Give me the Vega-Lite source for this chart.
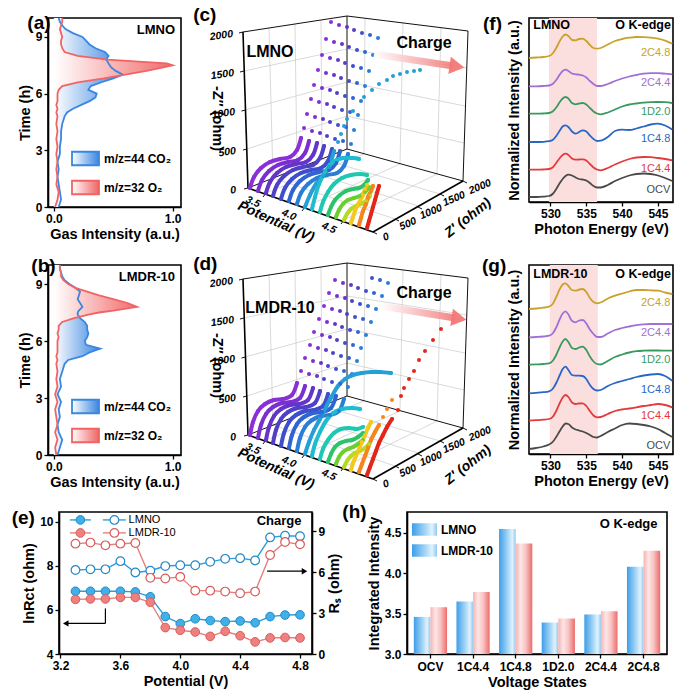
{
  "$schema": "https://vega.github.io/schema/vega-lite/v6.json",
  "padding": {"left": 10, "top": 5, "right": 0, "bottom": 0},
  "config": {
    "font": "Liberation Sans",
    "view": {"stroke": "#000000", "strokeWidth": 1.6},
    "axis": {"labelFont": "Liberation Sans", "labelFontSize": 12, "labelFontWeight": "bold", "labelColor": "#000000", "titleFont": "Liberation Sans", "titleFontSize": 14.5, "titleFontWeight": "bold", "titleColor": "#000000", "domainColor": "#000000", "domainWidth": 1.6, "tickColor": "#000000", "tickWidth": 1.3, "tickSize": 4, "grid": false, "labelPadding": 2, "titlePadding": 3},
    "title": {"font": "Liberation Sans", "fontSize": 19, "fontWeight": "bold", "color": "#000000", "anchor": "start", "frame": "bounds", "offset": 0},
    "legend": {"labelFont": "Liberation Sans", "labelColor": "#000000", "padding": 0},
    "text": {"font": "Liberation Sans", "color": "#000000"}
  },
  "datasets": {
    "gasA": [
      {"t": 0, "co2": 0.04, "o2": 0.01}, {"t": 0.4, "co2": 0.06, "o2": 0.03}, {"t": 0.8, "co2": 0.05, "o2": 0.04}, {"t": 1.2, "co2": 0.04, "o2": 0.02},
      {"t": 1.6, "co2": 0.03, "o2": 0.03}, {"t": 2.0, "co2": 0.04, "o2": 0.02}, {"t": 2.4, "co2": 0.03, "o2": 0.03}, {"t": 2.8, "co2": 0.05, "o2": 0.02},
      {"t": 3.2, "co2": 0.05, "o2": 0.03}, {"t": 3.6, "co2": 0.06, "o2": 0.02}, {"t": 4.0, "co2": 0.06, "o2": 0.03}, {"t": 4.4, "co2": 0.07, "o2": 0.02},
      {"t": 4.8, "co2": 0.09, "o2": 0.03}, {"t": 5.0, "co2": 0.11, "o2": 0.02}, {"t": 5.2, "co2": 0.16, "o2": 0.03}, {"t": 5.4, "co2": 0.23, "o2": 0.02},
      {"t": 5.6, "co2": 0.30, "o2": 0.03}, {"t": 5.8, "co2": 0.35, "o2": 0.03}, {"t": 6.0, "co2": 0.36, "o2": 0.03}, {"t": 6.2, "co2": 0.29, "o2": 0.04},
      {"t": 6.4, "co2": 0.31, "o2": 0.07}, {"t": 6.6, "co2": 0.40, "o2": 0.20}, {"t": 6.8, "co2": 0.50, "o2": 0.42}, {"t": 7.0, "co2": 0.58, "o2": 0.60},
      {"t": 7.2, "co2": 0.52, "o2": 0.78}, {"t": 7.4, "co2": 0.48, "o2": 0.93}, {"t": 7.5, "co2": 0.47, "o2": 1.0}, {"t": 7.6, "co2": 0.46, "o2": 0.95},
      {"t": 7.8, "co2": 0.44, "o2": 0.45}, {"t": 8.0, "co2": 0.46, "o2": 0.20}, {"t": 8.2, "co2": 0.43, "o2": 0.09}, {"t": 8.4, "co2": 0.35, "o2": 0.07},
      {"t": 8.6, "co2": 0.30, "o2": 0.06}, {"t": 8.8, "co2": 0.27, "o2": 0.06}, {"t": 9.0, "co2": 0.24, "o2": 0.07}, {"t": 9.2, "co2": 0.16, "o2": 0.06},
      {"t": 9.4, "co2": 0.10, "o2": 0.05}, {"t": 9.6, "co2": 0.07, "o2": 0.06}, {"t": 9.8, "co2": 0.05, "o2": 0.07}, {"t": 10.0, "co2": 0.04, "o2": 0.07}
    ],
    "gasB": [
      {"t": 0, "co2": 0.03, "o2": 0.02}, {"t": 0.4, "co2": 0.05, "o2": 0.01}, {"t": 0.8, "co2": 0.07, "o2": 0.03}, {"t": 1.2, "co2": 0.04, "o2": 0.01},
      {"t": 1.6, "co2": 0.03, "o2": 0.03}, {"t": 2.0, "co2": 0.05, "o2": 0.02}, {"t": 2.4, "co2": 0.04, "o2": 0.01}, {"t": 2.8, "co2": 0.06, "o2": 0.03},
      {"t": 3.2, "co2": 0.03, "o2": 0.01}, {"t": 3.6, "co2": 0.06, "o2": 0.03}, {"t": 4.0, "co2": 0.05, "o2": 0.02}, {"t": 4.4, "co2": 0.07, "o2": 0.03},
      {"t": 4.8, "co2": 0.09, "o2": 0.02}, {"t": 5.0, "co2": 0.12, "o2": 0.03}, {"t": 5.2, "co2": 0.24, "o2": 0.02}, {"t": 5.4, "co2": 0.30, "o2": 0.03},
      {"t": 5.6, "co2": 0.39, "o2": 0.03}, {"t": 5.8, "co2": 0.27, "o2": 0.03}, {"t": 6.0, "co2": 0.26, "o2": 0.03}, {"t": 6.2, "co2": 0.28, "o2": 0.04},
      {"t": 6.4, "co2": 0.29, "o2": 0.03}, {"t": 6.6, "co2": 0.28, "o2": 0.04}, {"t": 6.8, "co2": 0.28, "o2": 0.04}, {"t": 7.0, "co2": 0.26, "o2": 0.07},
      {"t": 7.2, "co2": 0.22, "o2": 0.17}, {"t": 7.4, "co2": 0.20, "o2": 0.30}, {"t": 7.5, "co2": 0.20, "o2": 0.38}, {"t": 7.6, "co2": 0.21, "o2": 0.50},
      {"t": 7.8, "co2": 0.24, "o2": 0.70}, {"t": 8.0, "co2": 0.22, "o2": 0.62}, {"t": 8.2, "co2": 0.20, "o2": 0.50}, {"t": 8.4, "co2": 0.21, "o2": 0.38},
      {"t": 8.6, "co2": 0.22, "o2": 0.28}, {"t": 8.8, "co2": 0.18, "o2": 0.18}, {"t": 9.0, "co2": 0.13, "o2": 0.12}, {"t": 9.2, "co2": 0.09, "o2": 0.08},
      {"t": 9.4, "co2": 0.07, "o2": 0.06}, {"t": 9.6, "co2": 0.06, "o2": 0.06}, {"t": 9.8, "co2": 0.05, "o2": 0.05}, {"t": 10.0, "co2": 0.05, "o2": 0.05}
    ],
    "states": [
      {"k": "a", "name": "OCV"}, {"k": "b", "name": "1C4.4"}, {"k": "c", "name": "1C4.8"},
      {"k": "d", "name": "1D2.0"}, {"k": "e", "name": "2C4.4"}, {"k": "f", "name": "2C4.8"}
    ],
    "specF": [
      {"E": 527, "a": 2, "b": 29.3, "c": 57, "d": 85.3, "e": 112.7, "f": 141},
      {"E": 528, "a": 2, "b": 29.3, "c": 57, "d": 85.3, "e": 112.7, "f": 141.5},
      {"E": 529, "a": 2.3, "b": 29.5, "c": 57.2, "d": 85.5, "e": 113, "f": 142},
      {"E": 529.8, "a": 3, "b": 30, "c": 57.8, "d": 86, "e": 113.5, "f": 143},
      {"E": 530.3, "a": 5, "b": 31.5, "c": 59, "d": 87.5, "e": 115, "f": 145.5},
      {"E": 530.8, "a": 10, "b": 36, "c": 63, "d": 91.5, "e": 119, "f": 151},
      {"E": 531.3, "a": 16, "b": 41, "c": 68.5, "d": 97, "e": 124.5, "f": 158},
      {"E": 531.7, "a": 20, "b": 44, "c": 72.5, "d": 100.5, "e": 128, "f": 162.5},
      {"E": 532.1, "a": 23, "b": 45.3, "c": 73.7, "d": 102, "e": 129.3, "f": 164.5},
      {"E": 532.5, "a": 24.3, "b": 44, "c": 72, "d": 100.5, "e": 128, "f": 163},
      {"E": 533, "a": 23.5, "b": 40.5, "c": 67.5, "d": 96, "e": 125.5, "f": 159},
      {"E": 533.5, "a": 21.5, "b": 39.3, "c": 65.3, "d": 94.7, "e": 124.7, "f": 158.7},
      {"E": 534, "a": 20, "b": 39.5, "c": 67, "d": 95.5, "e": 124.3, "f": 160},
      {"E": 534.5, "a": 19.5, "b": 39.7, "c": 68.7, "d": 96, "e": 123.5, "f": 160.3},
      {"E": 535, "a": 18.5, "b": 38.5, "c": 67.5, "d": 94.5, "e": 121.5, "f": 158},
      {"E": 535.5, "a": 16, "b": 35, "c": 63.5, "d": 91, "e": 118, "f": 154},
      {"E": 536, "a": 13, "b": 31.5, "c": 60, "d": 87.5, "e": 115, "f": 151},
      {"E": 536.5, "a": 11.5, "b": 29.5, "c": 58, "d": 85.5, "e": 113, "f": 150.3},
      {"E": 537, "a": 11.5, "b": 28.7, "c": 58.3, "d": 84.7, "e": 113, "f": 151},
      {"E": 538, "a": 14, "b": 31, "c": 62, "d": 86.5, "e": 115, "f": 154.5},
      {"E": 539, "a": 18, "b": 34.5, "c": 68, "d": 89.5, "e": 118, "f": 158},
      {"E": 540, "a": 21, "b": 37.5, "c": 69.3, "d": 92.5, "e": 120.5, "f": 160},
      {"E": 541, "a": 23.5, "b": 40, "c": 69, "d": 94.5, "e": 122.5, "f": 161.3},
      {"E": 542, "a": 25, "b": 41.5, "c": 70.5, "d": 95.5, "e": 124, "f": 162},
      {"E": 543, "a": 25.5, "b": 42, "c": 72.5, "d": 96.3, "e": 125.3, "f": 161.8},
      {"E": 544, "a": 25, "b": 41.8, "c": 74.5, "d": 96.8, "e": 125.8, "f": 161.3},
      {"E": 545, "a": 23.5, "b": 41, "c": 75.3, "d": 97, "e": 125.8, "f": 160.3},
      {"E": 546, "a": 21, "b": 40, "c": 73.5, "d": 96.8, "e": 125.3, "f": 158.3},
      {"E": 547, "a": 18, "b": 38.7, "c": 69.5, "d": 96, "e": 124.7, "f": 155.3}
    ],
    "specG": [
      {"E": 527, "a": 5, "b": 33.3, "c": 60.7, "d": 89.3, "e": 116.7, "f": 145},
      {"E": 528, "a": 6, "b": 33.8, "c": 61.2, "d": 89.6, "e": 117, "f": 145.5},
      {"E": 529, "a": 7.5, "b": 34.3, "c": 61.8, "d": 90, "e": 117.5, "f": 146.3},
      {"E": 529.8, "a": 9.5, "b": 35, "c": 62.7, "d": 90.7, "e": 118.3, "f": 147.3},
      {"E": 530.3, "a": 12, "b": 37, "c": 65, "d": 93, "e": 120.5, "f": 150},
      {"E": 530.8, "a": 17, "b": 43, "c": 71, "d": 99, "e": 126.5, "f": 157},
      {"E": 531.3, "a": 23, "b": 51, "c": 79, "d": 107, "e": 135, "f": 165},
      {"E": 531.7, "a": 27.5, "b": 56.5, "c": 85, "d": 112.5, "e": 140.5, "f": 169.5},
      {"E": 532.1, "a": 30.5, "b": 59, "c": 87.3, "d": 115, "e": 142.7, "f": 170.7},
      {"E": 532.5, "a": 30, "b": 57, "c": 84, "d": 112, "e": 139.5, "f": 168},
      {"E": 533, "a": 26.5, "b": 51.5, "c": 79, "d": 106, "e": 133, "f": 164},
      {"E": 533.5, "a": 24.5, "b": 50, "c": 78.3, "d": 105, "e": 131.7, "f": 163.3},
      {"E": 534, "a": 23.5, "b": 50.5, "c": 78.3, "d": 106.5, "e": 133.5, "f": 164.5},
      {"E": 534.5, "a": 22.5, "b": 50.7, "c": 78, "d": 107.3, "e": 134, "f": 165},
      {"E": 535, "a": 21, "b": 48, "c": 75, "d": 104, "e": 130.5, "f": 162},
      {"E": 535.5, "a": 19, "b": 43, "c": 69, "d": 97.5, "e": 124.5, "f": 156},
      {"E": 536, "a": 17, "b": 38.5, "c": 65, "d": 92.5, "e": 120, "f": 152},
      {"E": 536.5, "a": 16.5, "b": 36.7, "c": 63.5, "d": 90, "e": 117, "f": 150.7},
      {"E": 537, "a": 18, "b": 37, "c": 64, "d": 89.5, "e": 117, "f": 151.5},
      {"E": 538, "a": 22, "b": 40, "c": 68, "d": 93, "e": 120.5, "f": 155.5},
      {"E": 539, "a": 25.5, "b": 43, "c": 71, "d": 97, "e": 124, "f": 158.3},
      {"E": 540, "a": 29, "b": 44.5, "c": 73, "d": 99.5, "e": 126, "f": 160.5},
      {"E": 541, "a": 30.5, "b": 45.5, "c": 75, "d": 101.5, "e": 127.5, "f": 162.5},
      {"E": 542, "a": 30, "b": 46.7, "c": 77, "d": 102.8, "e": 128.8, "f": 164},
      {"E": 543, "a": 29, "b": 48, "c": 78.5, "d": 103.3, "e": 129.7, "f": 164},
      {"E": 544, "a": 27.5, "b": 49, "c": 79.5, "d": 103.5, "e": 130, "f": 163.6},
      {"E": 545, "a": 25, "b": 50, "c": 80, "d": 103.5, "e": 130, "f": 163.3},
      {"E": 546, "a": 21, "b": 49, "c": 78, "d": 103.4, "e": 130, "f": 161.5},
      {"E": 547, "a": 17, "b": 46.7, "c": 73.3, "d": 103.3, "e": 130, "f": 160}
    ],
    "frame3d": [
      {"u": 42, "v": 160, "u2": 38, "v2": 10, "k": "g"}, {"u": 66, "v": 150, "u2": 64, "v2": 6, "k": "g"}, {"u": 91, "v": 141, "u2": 90, "v2": 2, "k": "g"},
      {"u": 16, "v": 131, "u2": 116, "v2": 98, "k": "g"}, {"u": 14, "v": 92, "u2": 116, "v2": 64, "k": "g"}, {"u": 13, "v": 53, "u2": 116, "v2": 31, "k": "g"},
      {"u": 133, "v": 136, "u2": 134, "v2": 0, "k": "g"}, {"u": 169, "v": 146, "u2": 172, "v2": 5, "k": "g"}, {"u": 206, "v": 156, "u2": 210, "v2": 10, "k": "g"},
      {"u": 116, "v": 98, "u2": 233, "v2": 125, "k": "g"}, {"u": 116, "v": 64, "u2": 234, "v2": 88, "k": "g"}, {"u": 116, "v": 31, "u2": 236, "v2": 50, "k": "g"},
      {"u": 42, "v": 160, "u2": 164, "v2": 201, "k": "g"}, {"u": 66, "v": 150, "u2": 187, "v2": 188, "k": "g"}, {"u": 91, "v": 141, "u2": 209, "v2": 176, "k": "g"},
      {"u": 35, "v": 175, "u2": 133, "v2": 136, "k": "g"}, {"u": 74, "v": 189, "u2": 169, "v2": 146, "k": "g"}, {"u": 113, "v": 202, "u2": 206, "v2": 156, "k": "g"},
      {"u": 12, "v": 14, "u2": 116, "v2": -2, "k": "e"}, {"u": 116, "v": -2, "u2": 116, "v2": 131, "k": "e"}, {"u": 116, "v": -2, "u2": 237, "v2": 13, "k": "e"},
      {"u": 237, "v": 13, "u2": 232, "v2": 163, "k": "e"}, {"u": 17, "v": 170, "u2": 116, "v2": 131, "k": "e"}, {"u": 116, "v": 131, "u2": 232, "v2": 163, "k": "e"},
      {"u": 17, "v": 170, "u2": 13, "v2": 171, "k": "e"}, {"u": 16, "v": 131, "u2": 12, "v2": 132, "k": "e"}, {"u": 14.5, "v": 92, "u2": 10.5, "v2": 93, "k": "e"},
      {"u": 13, "v": 53, "u2": 9, "v2": 54, "k": "e"}, {"u": 12, "v": 14, "u2": 8, "v2": 15, "k": "e"},
      {"u": 35, "v": 175, "u2": 32, "v2": 179, "k": "e"}, {"u": 74, "v": 189, "u2": 71, "v2": 193, "k": "e"}, {"u": 113, "v": 202, "u2": 110, "v2": 206, "k": "e"},
      {"u": 142, "v": 214, "u2": 146, "v2": 216, "k": "e"}, {"u": 164, "v": 201, "u2": 168, "v2": 203, "k": "e"}, {"u": 187, "v": 189, "u2": 191, "v2": 191, "k": "e"},
      {"u": 209, "v": 176, "u2": 213, "v2": 178, "k": "e"}, {"u": 232, "v": 163, "u2": 236, "v2": 165, "k": "e"},
      {"u": 17, "v": 170, "u2": 12, "v2": 14, "k": "a"}, {"u": 17, "v": 170, "u2": 142, "v2": 214, "k": "a"}, {"u": 142, "v": 214, "u2": 232, "v2": 163, "k": "a"}
    ],
    "lab3d": [
      {"u": 5, "v": 172, "t": "0", "g": "z"}, {"u": 5, "v": 133, "t": "500", "g": "z"}, {"u": 4, "v": 94, "t": "1000", "g": "z"},
      {"u": 3, "v": 55, "t": "1500", "g": "z"}, {"u": 2, "v": 16, "t": "2000", "g": "z"},
      {"u": 22, "v": 184, "t": "3.5", "g": "p"}, {"u": 58, "v": 197, "t": "4.0", "g": "p"}, {"u": 98, "v": 210, "t": "4.5", "g": "p"},
      {"u": 155, "v": 219, "t": "0", "g": "r"}, {"u": 177, "v": 206, "t": "500", "g": "r"}, {"u": 200, "v": 194, "t": "1000", "g": "r"},
      {"u": 223, "v": 181, "t": "1500", "g": "r"}, {"u": 249, "v": 169, "t": "2000", "g": "r"}
    ],
    "curC": [
      {"p": 3.3, "u": 19, "v": 170, "s": "h"}, {"p": 3.3, "u": 23, "v": 159, "s": "h"}, {"p": 3.3, "u": 30, "v": 150, "s": "h"}, {"p": 3.3, "u": 39, "v": 144, "s": "h"}, {"p": 3.3, "u": 49, "v": 141, "s": "h"}, {"p": 3.3, "u": 59, "v": 139, "s": "h"}, {"p": 3.3, "u": 66, "v": 132, "s": "h"}, {"p": 3.3, "u": 70, "v": 120, "s": "h"},
      {"p": 3.3, "u": 73, "v": 110, "s": "l"}, {"p": 3.3, "u": 76, "v": 96, "s": "l"}, {"p": 3.3, "u": 80, "v": 81, "s": "l"}, {"p": 3.3, "u": 83, "v": 67, "s": "l"}, {"p": 3.3, "u": 87, "v": 52, "s": "l"}, {"p": 3.3, "u": 91, "v": 37, "s": "l"}, {"p": 3.3, "u": 95, "v": 21, "s": "l"}, {"p": 3.3, "u": 100, "v": 4, "s": "l"},
      {"p": 3.4, "u": 27, "v": 173, "s": "h"}, {"p": 3.4, "u": 31, "v": 162, "s": "h"}, {"p": 3.4, "u": 38, "v": 153, "s": "h"}, {"p": 3.4, "u": 47, "v": 147, "s": "h"}, {"p": 3.4, "u": 57, "v": 144, "s": "h"}, {"p": 3.4, "u": 67, "v": 142, "s": "h"}, {"p": 3.4, "u": 74, "v": 135, "s": "h"}, {"p": 3.4, "u": 78, "v": 123, "s": "h"},
      {"p": 3.4, "u": 81, "v": 113, "s": "l"}, {"p": 3.4, "u": 84, "v": 99, "s": "l"}, {"p": 3.4, "u": 88, "v": 84, "s": "l"}, {"p": 3.4, "u": 91, "v": 70, "s": "l"}, {"p": 3.4, "u": 95, "v": 55, "s": "l"}, {"p": 3.4, "u": 99, "v": 40, "s": "l"}, {"p": 3.4, "u": 103, "v": 24, "s": "l"}, {"p": 3.4, "u": 108, "v": 7, "s": "l"},
      {"p": 3.5, "u": 35, "v": 175, "s": "h"}, {"p": 3.5, "u": 39, "v": 164, "s": "h"}, {"p": 3.5, "u": 46, "v": 155, "s": "h"}, {"p": 3.5, "u": 55, "v": 149, "s": "h"}, {"p": 3.5, "u": 65, "v": 146, "s": "h"}, {"p": 3.5, "u": 75, "v": 144, "s": "h"}, {"p": 3.5, "u": 82, "v": 137, "s": "h"}, {"p": 3.5, "u": 86, "v": 125, "s": "h"},
      {"p": 3.5, "u": 89, "v": 115, "s": "l"}, {"p": 3.5, "u": 92, "v": 101, "s": "l"}, {"p": 3.5, "u": 96, "v": 86, "s": "l"}, {"p": 3.5, "u": 99, "v": 72, "s": "l"}, {"p": 3.5, "u": 103, "v": 57, "s": "l"}, {"p": 3.5, "u": 107, "v": 42, "s": "l"}, {"p": 3.5, "u": 111, "v": 26, "s": "l"}, {"p": 3.5, "u": 116, "v": 9, "s": "l"},
      {"p": 3.6, "u": 42, "v": 178, "s": "h"}, {"p": 3.6, "u": 46, "v": 167, "s": "h"}, {"p": 3.6, "u": 53, "v": 158, "s": "h"}, {"p": 3.6, "u": 62, "v": 152, "s": "h"}, {"p": 3.6, "u": 72, "v": 149, "s": "h"}, {"p": 3.6, "u": 82, "v": 147, "s": "h"}, {"p": 3.6, "u": 89, "v": 140, "s": "h"}, {"p": 3.6, "u": 93, "v": 128, "s": "h"},
      {"p": 3.6, "u": 96, "v": 118, "s": "l"}, {"p": 3.6, "u": 99, "v": 104, "s": "l"}, {"p": 3.6, "u": 103, "v": 89, "s": "l"}, {"p": 3.6, "u": 106, "v": 75, "s": "l"}, {"p": 3.6, "u": 110, "v": 60, "s": "l"}, {"p": 3.6, "u": 114, "v": 45, "s": "l"}, {"p": 3.6, "u": 118, "v": 29, "s": "l"}, {"p": 3.6, "u": 123, "v": 12, "s": "l"},
      {"p": 3.7, "u": 50, "v": 181, "s": "h"}, {"p": 3.7, "u": 54, "v": 170, "s": "h"}, {"p": 3.7, "u": 61, "v": 161, "s": "h"}, {"p": 3.7, "u": 70, "v": 155, "s": "h"}, {"p": 3.7, "u": 80, "v": 152, "s": "h"}, {"p": 3.7, "u": 90, "v": 150, "s": "h"}, {"p": 3.7, "u": 97, "v": 143, "s": "h"}, {"p": 3.7, "u": 101, "v": 131, "s": "h"},
      {"p": 3.7, "u": 104, "v": 121, "s": "l"}, {"p": 3.7, "u": 107, "v": 107, "s": "l"}, {"p": 3.7, "u": 111, "v": 92, "s": "l"}, {"p": 3.7, "u": 114, "v": 78, "s": "l"}, {"p": 3.7, "u": 118, "v": 63, "s": "l"}, {"p": 3.7, "u": 122, "v": 48, "s": "l"}, {"p": 3.7, "u": 126, "v": 32, "s": "l"}, {"p": 3.7, "u": 131, "v": 15, "s": "l"},
      {"p": 3.8, "u": 58, "v": 183, "s": "h"}, {"p": 3.8, "u": 62, "v": 172, "s": "h"}, {"p": 3.8, "u": 69, "v": 163, "s": "h"}, {"p": 3.8, "u": 78, "v": 157, "s": "h"}, {"p": 3.8, "u": 88, "v": 154, "s": "h"}, {"p": 3.8, "u": 98, "v": 152, "s": "h"}, {"p": 3.8, "u": 105, "v": 145, "s": "h"}, {"p": 3.8, "u": 109, "v": 133, "s": "h"},
      {"p": 3.8, "u": 112, "v": 123, "s": "l"}, {"p": 3.8, "u": 115, "v": 109, "s": "l"}, {"p": 3.8, "u": 119, "v": 94, "s": "l"}, {"p": 3.8, "u": 122, "v": 80, "s": "l"}, {"p": 3.8, "u": 126, "v": 65, "s": "l"}, {"p": 3.8, "u": 130, "v": 50, "s": "l"}, {"p": 3.8, "u": 134, "v": 34, "s": "l"}, {"p": 3.8, "u": 139, "v": 17, "s": "l"},
      {"p": 3.9, "u": 66, "v": 186, "s": "h"}, {"p": 3.9, "u": 70, "v": 175, "s": "h"}, {"p": 3.9, "u": 77, "v": 166, "s": "h"}, {"p": 3.9, "u": 86, "v": 160, "s": "h"}, {"p": 3.9, "u": 96, "v": 157, "s": "h"}, {"p": 3.9, "u": 106, "v": 155, "s": "h"}, {"p": 3.9, "u": 113, "v": 148, "s": "h"}, {"p": 3.9, "u": 117, "v": 136, "s": "h"},
      {"p": 3.9, "u": 120, "v": 126, "s": "l"}, {"p": 3.9, "u": 123, "v": 112, "s": "l"}, {"p": 3.9, "u": 127, "v": 97, "s": "l"}, {"p": 3.9, "u": 130, "v": 83, "s": "l"}, {"p": 3.9, "u": 134, "v": 68, "s": "l"}, {"p": 3.9, "u": 138, "v": 53, "s": "l"}, {"p": 3.9, "u": 142, "v": 37, "s": "l"}, {"p": 3.9, "u": 147, "v": 20, "s": "l"},
      {"p": 4.0, "u": 74, "v": 189, "s": "h"}, {"p": 4.0, "u": 79, "v": 177, "s": "h"}, {"p": 4.0, "u": 85, "v": 166, "s": "h"}, {"p": 4.0, "u": 92, "v": 158, "s": "h"}, {"p": 4.0, "u": 98, "v": 149, "s": "h"}, {"p": 4.0, "u": 103, "v": 133, "s": "h"},
      {"p": 4.0, "u": 107, "v": 124, "s": "l"}, {"p": 4.0, "u": 110, "v": 116, "s": "l"}, {"p": 4.0, "u": 113, "v": 108, "s": "l"}, {"p": 4.0, "u": 116, "v": 101, "s": "l"}, {"p": 4.0, "u": 122, "v": 93, "s": "l"}, {"p": 4.0, "u": 133, "v": 79, "s": "l"}, {"p": 4.0, "u": 141, "v": 72, "s": "l"},
      {"p": 4.0, "u": 148, "v": 66, "s": "l"}, {"p": 4.0, "u": 156, "v": 62, "s": "l"}, {"p": 4.0, "u": 162, "v": 58, "s": "l"}, {"p": 4.0, "u": 169, "v": 56, "s": "l"}, {"p": 4.0, "u": 176, "v": 54, "s": "l"}, {"p": 4.0, "u": 183, "v": 53, "s": "l"}, {"p": 4.0, "u": 189, "v": 52, "s": "l"},
      {"p": 4.1, "u": 81, "v": 191, "s": "h"}, {"p": 4.1, "u": 84, "v": 179, "s": "h"}, {"p": 4.1, "u": 88, "v": 166, "s": "h"}, {"p": 4.1, "u": 94, "v": 154, "s": "h"}, {"p": 4.1, "u": 102, "v": 144, "s": "h"}, {"p": 4.1, "u": 112, "v": 140, "s": "h"}, {"p": 4.1, "u": 122, "v": 140, "s": "h"}, {"p": 4.1, "u": 128, "v": 141, "s": "h"},
      {"p": 4.2, "u": 89, "v": 194, "s": "h"}, {"p": 4.2, "u": 92, "v": 184, "s": "h"}, {"p": 4.2, "u": 97, "v": 174, "s": "h"}, {"p": 4.2, "u": 103, "v": 166, "s": "h"}, {"p": 4.2, "u": 111, "v": 160, "s": "h"}, {"p": 4.2, "u": 120, "v": 157, "s": "h"}, {"p": 4.2, "u": 129, "v": 156, "s": "h"}, {"p": 4.2, "u": 136, "v": 157, "s": "h"},
      {"p": 4.3, "u": 97, "v": 197, "s": "h"}, {"p": 4.3, "u": 100, "v": 189, "s": "h"}, {"p": 4.3, "u": 104, "v": 182, "s": "h"}, {"p": 4.3, "u": 109, "v": 177, "s": "h"}, {"p": 4.3, "u": 115, "v": 173, "s": "h"}, {"p": 4.3, "u": 122, "v": 171, "s": "h"}, {"p": 4.3, "u": 128, "v": 170, "s": "h"}, {"p": 4.3, "u": 133, "v": 167, "s": "h"}, {"p": 4.3, "u": 137, "v": 162, "s": "h"},
      {"p": 4.4, "u": 105, "v": 199, "s": "h"}, {"p": 4.4, "u": 108, "v": 192, "s": "h"}, {"p": 4.4, "u": 112, "v": 186, "s": "h"}, {"p": 4.4, "u": 117, "v": 182, "s": "h"}, {"p": 4.4, "u": 123, "v": 180, "s": "h"}, {"p": 4.4, "u": 129, "v": 178, "s": "h"}, {"p": 4.4, "u": 134, "v": 174, "s": "h"}, {"p": 4.4, "u": 138, "v": 169, "s": "h"},
      {"p": 4.5, "u": 113, "v": 202, "s": "h"}, {"p": 4.5, "u": 116, "v": 196, "s": "h"}, {"p": 4.5, "u": 120, "v": 191, "s": "h"}, {"p": 4.5, "u": 125, "v": 188, "s": "h"}, {"p": 4.5, "u": 130, "v": 186, "s": "h"}, {"p": 4.5, "u": 135, "v": 183, "s": "h"}, {"p": 4.5, "u": 139, "v": 178, "s": "h"},
      {"p": 4.6, "u": 120, "v": 205, "s": "h"}, {"p": 4.6, "u": 122, "v": 199, "s": "h"}, {"p": 4.6, "u": 124, "v": 193, "s": "h"}, {"p": 4.6, "u": 126, "v": 188, "s": "h"}, {"p": 4.6, "u": 129, "v": 183, "s": "h"}, {"p": 4.6, "u": 132, "v": 177, "s": "h"}, {"p": 4.6, "u": 134, "v": 171, "s": "h"}, {"p": 4.6, "u": 136, "v": 167, "s": "h"},
      {"p": 4.7, "u": 128, "v": 207, "s": "h"}, {"p": 4.7, "u": 130, "v": 200, "s": "h"}, {"p": 4.7, "u": 132, "v": 193, "s": "h"}, {"p": 4.7, "u": 135, "v": 186, "s": "h"}, {"p": 4.7, "u": 137, "v": 179, "s": "h"}, {"p": 4.7, "u": 140, "v": 173, "s": "h"}, {"p": 4.7, "u": 142, "v": 168, "s": "h"},
      {"p": 4.8, "u": 136, "v": 210, "s": "h"}, {"p": 4.8, "u": 138, "v": 203, "s": "h"}, {"p": 4.8, "u": 140, "v": 196, "s": "h"}, {"p": 4.8, "u": 142, "v": 189, "s": "h"}, {"p": 4.8, "u": 144, "v": 182, "s": "h"}, {"p": 4.8, "u": 146, "v": 175, "s": "h"}, {"p": 4.8, "u": 148, "v": 168, "s": "h"}
    ],
    "curD": [
      {"p": 3.3, "u": 19, "v": 170, "s": "h"}, {"p": 3.3, "u": 22, "v": 157, "s": "h"}, {"p": 3.3, "u": 27, "v": 146, "s": "h"}, {"p": 3.3, "u": 34, "v": 139, "s": "h"}, {"p": 3.3, "u": 43, "v": 135, "s": "h"}, {"p": 3.3, "u": 52, "v": 134, "s": "h"}, {"p": 3.3, "u": 61, "v": 130, "s": "h"}, {"p": 3.3, "u": 66, "v": 118, "s": "h"},
      {"p": 3.3, "u": 70, "v": 106, "s": "l"}, {"p": 3.3, "u": 74, "v": 93, "s": "l"}, {"p": 3.3, "u": 79, "v": 80, "s": "l"}, {"p": 3.3, "u": 83, "v": 67, "s": "l"}, {"p": 3.3, "u": 88, "v": 54, "s": "l"}, {"p": 3.3, "u": 93, "v": 41, "s": "l"}, {"p": 3.3, "u": 98, "v": 28, "s": "l"}, {"p": 3.3, "u": 104, "v": 15, "s": "l"},
      {"p": 3.4, "u": 27, "v": 173, "s": "h"}, {"p": 3.4, "u": 30, "v": 160, "s": "h"}, {"p": 3.4, "u": 35, "v": 149, "s": "h"}, {"p": 3.4, "u": 42, "v": 142, "s": "h"}, {"p": 3.4, "u": 51, "v": 138, "s": "h"}, {"p": 3.4, "u": 60, "v": 137, "s": "h"}, {"p": 3.4, "u": 69, "v": 133, "s": "h"}, {"p": 3.4, "u": 74, "v": 121, "s": "h"},
      {"p": 3.4, "u": 78, "v": 109, "s": "l"}, {"p": 3.4, "u": 82, "v": 96, "s": "l"}, {"p": 3.4, "u": 87, "v": 83, "s": "l"}, {"p": 3.4, "u": 91, "v": 70, "s": "l"}, {"p": 3.4, "u": 96, "v": 57, "s": "l"}, {"p": 3.4, "u": 101, "v": 44, "s": "l"}, {"p": 3.4, "u": 106, "v": 31, "s": "l"}, {"p": 3.4, "u": 112, "v": 18, "s": "l"},
      {"p": 3.5, "u": 35, "v": 175, "s": "h"}, {"p": 3.5, "u": 38, "v": 162, "s": "h"}, {"p": 3.5, "u": 43, "v": 151, "s": "h"}, {"p": 3.5, "u": 50, "v": 144, "s": "h"}, {"p": 3.5, "u": 59, "v": 140, "s": "h"}, {"p": 3.5, "u": 68, "v": 139, "s": "h"}, {"p": 3.5, "u": 77, "v": 135, "s": "h"}, {"p": 3.5, "u": 82, "v": 123, "s": "h"},
      {"p": 3.5, "u": 86, "v": 111, "s": "l"}, {"p": 3.5, "u": 90, "v": 98, "s": "l"}, {"p": 3.5, "u": 95, "v": 85, "s": "l"}, {"p": 3.5, "u": 99, "v": 72, "s": "l"}, {"p": 3.5, "u": 104, "v": 59, "s": "l"}, {"p": 3.5, "u": 109, "v": 46, "s": "l"}, {"p": 3.5, "u": 114, "v": 33, "s": "l"}, {"p": 3.5, "u": 120, "v": 20, "s": "l"},
      {"p": 3.6, "u": 42, "v": 178, "s": "h"}, {"p": 3.6, "u": 45, "v": 165, "s": "h"}, {"p": 3.6, "u": 50, "v": 154, "s": "h"}, {"p": 3.6, "u": 57, "v": 147, "s": "h"}, {"p": 3.6, "u": 66, "v": 143, "s": "h"}, {"p": 3.6, "u": 75, "v": 142, "s": "h"}, {"p": 3.6, "u": 84, "v": 138, "s": "h"}, {"p": 3.6, "u": 89, "v": 126, "s": "h"},
      {"p": 3.6, "u": 93, "v": 114, "s": "l"}, {"p": 3.6, "u": 97, "v": 101, "s": "l"}, {"p": 3.6, "u": 102, "v": 88, "s": "l"}, {"p": 3.6, "u": 106, "v": 75, "s": "l"}, {"p": 3.6, "u": 111, "v": 62, "s": "l"}, {"p": 3.6, "u": 116, "v": 49, "s": "l"}, {"p": 3.6, "u": 121, "v": 36, "s": "l"}, {"p": 3.6, "u": 127, "v": 23, "s": "l"},
      {"p": 3.7, "u": 50, "v": 181, "s": "h"}, {"p": 3.7, "u": 53, "v": 168, "s": "h"}, {"p": 3.7, "u": 58, "v": 157, "s": "h"}, {"p": 3.7, "u": 65, "v": 150, "s": "h"}, {"p": 3.7, "u": 74, "v": 146, "s": "h"}, {"p": 3.7, "u": 83, "v": 145, "s": "h"}, {"p": 3.7, "u": 92, "v": 141, "s": "h"}, {"p": 3.7, "u": 97, "v": 129, "s": "h"},
      {"p": 3.7, "u": 101, "v": 117, "s": "l"}, {"p": 3.7, "u": 105, "v": 104, "s": "l"}, {"p": 3.7, "u": 110, "v": 91, "s": "l"}, {"p": 3.7, "u": 114, "v": 78, "s": "l"}, {"p": 3.7, "u": 119, "v": 65, "s": "l"}, {"p": 3.7, "u": 124, "v": 52, "s": "l"}, {"p": 3.7, "u": 129, "v": 39, "s": "l"}, {"p": 3.7, "u": 135, "v": 26, "s": "l"}, {"p": 3.7, "u": 141, "v": 13, "s": "l"},
      {"p": 3.8, "u": 58, "v": 183, "s": "h"}, {"p": 3.8, "u": 61, "v": 170, "s": "h"}, {"p": 3.8, "u": 66, "v": 159, "s": "h"}, {"p": 3.8, "u": 73, "v": 152, "s": "h"}, {"p": 3.8, "u": 82, "v": 148, "s": "h"}, {"p": 3.8, "u": 91, "v": 147, "s": "h"}, {"p": 3.8, "u": 100, "v": 143, "s": "h"}, {"p": 3.8, "u": 105, "v": 131, "s": "h"},
      {"p": 3.8, "u": 109, "v": 119, "s": "l"}, {"p": 3.8, "u": 113, "v": 106, "s": "l"}, {"p": 3.8, "u": 118, "v": 93, "s": "l"}, {"p": 3.8, "u": 122, "v": 80, "s": "l"}, {"p": 3.8, "u": 127, "v": 67, "s": "l"}, {"p": 3.8, "u": 132, "v": 54, "s": "l"}, {"p": 3.8, "u": 137, "v": 41, "s": "l"}, {"p": 3.8, "u": 143, "v": 28, "s": "l"}, {"p": 3.8, "u": 149, "v": 15, "s": "l"},
      {"p": 3.9, "u": 66, "v": 186, "s": "h"}, {"p": 3.9, "u": 69, "v": 173, "s": "h"}, {"p": 3.9, "u": 74, "v": 162, "s": "h"}, {"p": 3.9, "u": 81, "v": 155, "s": "h"}, {"p": 3.9, "u": 90, "v": 151, "s": "h"}, {"p": 3.9, "u": 99, "v": 150, "s": "h"}, {"p": 3.9, "u": 108, "v": 146, "s": "h"}, {"p": 3.9, "u": 113, "v": 134, "s": "h"},
      {"p": 3.9, "u": 117, "v": 122, "s": "l"}, {"p": 3.9, "u": 121, "v": 109, "s": "l"}, {"p": 3.9, "u": 126, "v": 96, "s": "l"}, {"p": 3.9, "u": 130, "v": 83, "s": "l"}, {"p": 3.9, "u": 135, "v": 70, "s": "l"}, {"p": 3.9, "u": 140, "v": 57, "s": "l"}, {"p": 3.9, "u": 145, "v": 44, "s": "l"}, {"p": 3.9, "u": 151, "v": 31, "s": "l"}, {"p": 3.9, "u": 157, "v": 18, "s": "l"},
      {"p": 4.0, "u": 74, "v": 189, "s": "h"}, {"p": 4.0, "u": 78, "v": 177, "s": "h"}, {"p": 4.0, "u": 83, "v": 165, "s": "h"}, {"p": 4.0, "u": 89, "v": 154, "s": "h"}, {"p": 4.0, "u": 95, "v": 142, "s": "h"}, {"p": 4.0, "u": 101, "v": 131, "s": "h"}, {"p": 4.0, "u": 107, "v": 121, "s": "h"},
      {"p": 4.0, "u": 114, "v": 114, "s": "h"}, {"p": 4.0, "u": 122, "v": 110, "s": "h"}, {"p": 4.0, "u": 131, "v": 108, "s": "h"}, {"p": 4.0, "u": 140, "v": 107, "s": "h"}, {"p": 4.0, "u": 149, "v": 107, "s": "h"}, {"p": 4.0, "u": 160, "v": 108, "s": "h"},
      {"p": 4.1, "u": 81, "v": 191, "s": "h"}, {"p": 4.1, "u": 84, "v": 179, "s": "h"}, {"p": 4.1, "u": 89, "v": 167, "s": "h"}, {"p": 4.1, "u": 95, "v": 156, "s": "h"}, {"p": 4.1, "u": 102, "v": 148, "s": "h"}, {"p": 4.1, "u": 111, "v": 144, "s": "h"}, {"p": 4.1, "u": 121, "v": 143, "s": "h"}, {"p": 4.1, "u": 129, "v": 144, "s": "h"},
      {"p": 4.2, "u": 89, "v": 194, "s": "h"}, {"p": 4.2, "u": 92, "v": 184, "s": "h"}, {"p": 4.2, "u": 97, "v": 175, "s": "h"}, {"p": 4.2, "u": 103, "v": 168, "s": "h"}, {"p": 4.2, "u": 110, "v": 164, "s": "h"}, {"p": 4.2, "u": 118, "v": 163, "s": "h"}, {"p": 4.2, "u": 126, "v": 164, "s": "h"}, {"p": 4.2, "u": 132, "v": 162, "s": "h"},
      {"p": 4.3, "u": 97, "v": 197, "s": "h"}, {"p": 4.3, "u": 100, "v": 189, "s": "h"}, {"p": 4.3, "u": 104, "v": 182, "s": "h"}, {"p": 4.3, "u": 109, "v": 178, "s": "h"}, {"p": 4.3, "u": 115, "v": 176, "s": "h"}, {"p": 4.3, "u": 121, "v": 175, "s": "h"}, {"p": 4.3, "u": 127, "v": 172, "s": "h"}, {"p": 4.3, "u": 132, "v": 168, "s": "h"},
      {"p": 4.4, "u": 105, "v": 199, "s": "h"}, {"p": 4.4, "u": 108, "v": 192, "s": "h"}, {"p": 4.4, "u": 112, "v": 187, "s": "h"}, {"p": 4.4, "u": 117, "v": 184, "s": "h"}, {"p": 4.4, "u": 122, "v": 182, "s": "h"}, {"p": 4.4, "u": 127, "v": 179, "s": "h"}, {"p": 4.4, "u": 132, "v": 175, "s": "h"},
      {"p": 4.5, "u": 113, "v": 202, "s": "h"}, {"p": 4.5, "u": 116, "v": 196, "s": "h"}, {"p": 4.5, "u": 120, "v": 191, "s": "h"}, {"p": 4.5, "u": 124, "v": 188, "s": "h"}, {"p": 4.5, "u": 129, "v": 186, "s": "h"}, {"p": 4.5, "u": 134, "v": 183, "s": "h"}, {"p": 4.5, "u": 138, "v": 179, "s": "h"},
      {"p": 4.6, "u": 120, "v": 205, "s": "h"}, {"p": 4.6, "u": 122, "v": 198, "s": "h"}, {"p": 4.6, "u": 125, "v": 191, "s": "h"}, {"p": 4.6, "u": 128, "v": 184, "s": "h"}, {"p": 4.6, "u": 131, "v": 177, "s": "h"}, {"p": 4.6, "u": 134, "v": 170, "s": "h"}, {"p": 4.6, "u": 137, "v": 163, "s": "h"}, {"p": 4.6, "u": 140, "v": 157, "s": "h"},
      {"p": 4.7, "u": 128, "v": 207, "s": "h"}, {"p": 4.7, "u": 131, "v": 199, "s": "h"}, {"p": 4.7, "u": 134, "v": 191, "s": "h"}, {"p": 4.7, "u": 137, "v": 183, "s": "h"}, {"p": 4.7, "u": 140, "v": 175, "s": "h"}, {"p": 4.7, "u": 144, "v": 167, "s": "h"}, {"p": 4.7, "u": 148, "v": 160, "s": "h"},
      {"p": 4.7, "u": 152, "v": 152, "s": "l"}, {"p": 4.7, "u": 156, "v": 144, "s": "l"}, {"p": 4.7, "u": 161, "v": 135, "s": "l"},
      {"p": 4.8, "u": 136, "v": 210, "s": "h"}, {"p": 4.8, "u": 139, "v": 202, "s": "h"}, {"p": 4.8, "u": 142, "v": 194, "s": "h"}, {"p": 4.8, "u": 145, "v": 186, "s": "h"}, {"p": 4.8, "u": 148, "v": 178, "s": "h"}, {"p": 4.8, "u": 152, "v": 170, "s": "h"}, {"p": 4.8, "u": 156, "v": 162, "s": "h"}, {"p": 4.8, "u": 161, "v": 154, "s": "h"},
      {"p": 4.8, "u": 167, "v": 145, "s": "l"}, {"p": 4.8, "u": 170, "v": 131, "s": "l"}, {"p": 4.8, "u": 173, "v": 123, "s": "l"}, {"p": 4.8, "u": 178, "v": 114, "s": "l"}, {"p": 4.8, "u": 183, "v": 106, "s": "l"}, {"p": 4.8, "u": 188, "v": 95, "s": "l"}, {"p": 4.8, "u": 194, "v": 86, "s": "l"}, {"p": 4.8, "u": 202, "v": 75, "s": "l"}, {"p": 4.8, "u": 210, "v": 64, "s": "l"}
    ],
    "eis": [
      {"V": 3.3, "s": "LMNO", "ln": 6.85, "rs": 6.15}, {"V": 3.4, "s": "LMNO", "ln": 6.85, "rs": 6.2}, {"V": 3.5, "s": "LMNO", "ln": 6.85, "rs": 6.2}, {"V": 3.6, "s": "LMNO", "ln": 6.85, "rs": 6.8},
      {"V": 3.7, "s": "LMNO", "ln": 6.82, "rs": 5.97}, {"V": 3.8, "s": "LMNO", "ln": 6.6, "rs": 6.1}, {"V": 3.9, "s": "LMNO", "ln": 5.7, "rs": 6.44}, {"V": 4.0, "s": "LMNO", "ln": 5.38, "rs": 6.5},
      {"V": 4.1, "s": "LMNO", "ln": 5.6, "rs": 6.5}, {"V": 4.2, "s": "LMNO", "ln": 5.52, "rs": 6.75}, {"V": 4.3, "s": "LMNO", "ln": 5.47, "rs": 6.97}, {"V": 4.4, "s": "LMNO", "ln": 5.5, "rs": 7.02},
      {"V": 4.5, "s": "LMNO", "ln": 5.42, "rs": 6.85}, {"V": 4.6, "s": "LMNO", "ln": 5.7, "rs": 8.54}, {"V": 4.7, "s": "LMNO", "ln": 5.77, "rs": 8.66}, {"V": 4.8, "s": "LMNO", "ln": 5.78, "rs": 8.63},
      {"V": 3.3, "s": "LMDR-10", "ln": 6.48, "rs": 8.08}, {"V": 3.4, "s": "LMDR-10", "ln": 6.5, "rs": 8.16}, {"V": 3.5, "s": "LMDR-10", "ln": 6.5, "rs": 7.96}, {"V": 3.6, "s": "LMDR-10", "ln": 6.57, "rs": 8.08},
      {"V": 3.7, "s": "LMDR-10", "ln": 6.57, "rs": 8.13}, {"V": 3.8, "s": "LMDR-10", "ln": 6.35, "rs": 5.58}, {"V": 3.9, "s": "LMDR-10", "ln": 5.2, "rs": 5.53}, {"V": 4.0, "s": "LMDR-10", "ln": 5.08, "rs": 5.65},
      {"V": 4.1, "s": "LMDR-10", "ln": 5.0, "rs": 4.64}, {"V": 4.2, "s": "LMDR-10", "ln": 4.8, "rs": 4.64}, {"V": 4.3, "s": "LMDR-10", "ln": 5.03, "rs": 4.57}, {"V": 4.4, "s": "LMDR-10", "ln": 4.83, "rs": 4.45},
      {"V": 4.5, "s": "LMDR-10", "ln": 4.55, "rs": 4.57}, {"V": 4.6, "s": "LMDR-10", "ln": 4.73, "rs": 7.25}, {"V": 4.7, "s": "LMDR-10", "ln": 4.75, "rs": 8.2}, {"V": 4.8, "s": "LMDR-10", "ln": 4.73, "rs": 8.03}
    ],
    "oks": [
      {"st": "OCV", "s": "LMNO", "val": 3.46}, {"st": "OCV", "s": "LMDR-10", "val": 3.58},
      {"st": "1C4.4", "s": "LMNO", "val": 3.65}, {"st": "1C4.4", "s": "LMDR-10", "val": 3.77},
      {"st": "1C4.8", "s": "LMNO", "val": 4.55}, {"st": "1C4.8", "s": "LMDR-10", "val": 4.37},
      {"st": "1D2.0", "s": "LMNO", "val": 3.39}, {"st": "1D2.0", "s": "LMDR-10", "val": 3.44},
      {"st": "2C4.4", "s": "LMNO", "val": 3.49}, {"st": "2C4.4", "s": "LMDR-10", "val": 3.53},
      {"st": "2C4.8", "s": "LMNO", "val": 4.08}, {"st": "2C4.8", "s": "LMDR-10", "val": 4.28}
    ]
  },
  "vconcat": [
    {
      "vconcat": [
        {
          "hconcat": [
            {
              "width": 133, "height": 189,
              "title": {"text": "(a)", "dx": 10, "dy": 23},
              "layer": [
                {
                  "data": {"name": "gasA"},
                  "transform": [{"fold": ["co2", "o2"], "as": ["gas", "I"]}],
                  "encoding": {
                    "y": {"field": "t", "type": "quantitative", "scale": {"domain": [0, 10], "nice": false}, "axis": {"values": [0, 3, 6, 9], "title": "Time (h)"}},
                    "x": {"field": "I", "type": "quantitative", "scale": {"domain": [-0.05, 1.07], "nice": false, "zero": false}, "axis": {"values": [0, 1], "title": "Gas Intensity (a.u.)"}}
                  },
                  "layer": [
                    {"transform": [{"filter": "datum.gas == 'co2'"}], "mark": {"type": "area", "orient": "horizontal", "fill": {"gradient": "linear", "x1": 0, "y1": 0, "x2": 1, "y2": 0, "stops": [{"offset": 0, "color": "#ffffff"}, {"offset": 1, "color": "#3a86e0"}]}}},
                    {"transform": [{"filter": "datum.gas == 'o2'"}], "mark": {"type": "area", "orient": "horizontal", "fill": {"gradient": "linear", "x1": 0, "y1": 0, "x2": 1, "y2": 0, "stops": [{"offset": 0, "color": "#ffffff"}, {"offset": 1, "color": "#f26b6b"}]}}},
                    {"mark": {"type": "line", "strokeWidth": 1.8}, "encoding": {"order": {"field": "t"}, "stroke": {"field": "gas", "type": "nominal", "scale": {"domain": ["co2", "o2"], "range": ["#3a86e0", "#f06464"]}, "legend": {"title": null, "orient": "bottom-right", "offset": 9, "symbolType": "M-1,-0.5H1V0.5H-1Z", "symbolSize": 729, "symbolStrokeWidth": 1.8, "labelFontSize": 12, "labelFontWeight": "bold", "labelOffset": 4, "rowPadding": 4, "labelExpr": "datum.label == 'co2' ? 'm/z=44 CO₂' : 'm/z=32 O₂'", "encode": {"symbols": {"update": {"fill": {"signal": "datum.value == 'co2' ? {gradient: 'linear', stops: [{offset: 0, color: '#ffffff'}, {offset: 1, color: '#3a86e0'}]} : {gradient: 'linear', stops: [{offset: 0, color: '#ffffff'}, {offset: 1, color: '#f06464'}]}"}, "fillOpacity": {"value": 1}}}}}}}}
                  ]
                },
                {"data": {"values": [{}]}, "mark": {"type": "text", "align": "right", "baseline": "middle", "fontSize": 13, "fontWeight": "bold"}, "encoding": {"x": {"datum": 1.02}, "y": {"datum": 9.35}, "text": {"value": "LMNO"}}}
              ]
            },
            {
              "width": 248, "height": 189,
              "view": {"stroke": null},
              "title": {"text": "(c)", "dx": -16, "dy": 13},
              "layer": [
                {
                  "encoding": {
                    "x": {"field": "u", "type": "quantitative", "scale": {"domain": [0, 248], "nice": false, "zero": false}, "axis": null},
                    "y": {"field": "v", "type": "quantitative", "scale": {"domain": [0, 189], "nice": false, "zero": false, "reverse": true}, "axis": {"title": "-Z″ (ohm)", "titleAngle": 90, "titleBaseline": "top", "labels": false, "ticks": false, "domain": false, "titlePadding": 8, "titleY": 100}}
                  },
                  "layer": [
                    {"data": {"name": "frame3d"}, "transform": [{"filter": "datum.k == 'g'"}], "mark": {"type": "rule", "color": "#c8c8c8", "strokeWidth": 0.7}, "encoding": {"x2": {"field": "u2"}, "y2": {"field": "v2"}}},
                    {"data": {"name": "frame3d"}, "transform": [{"filter": "datum.k == 'e'"}], "mark": {"type": "rule", "color": "#111111", "strokeWidth": 1}, "encoding": {"x2": {"field": "u2"}, "y2": {"field": "v2"}}},
                    {"data": {"name": "frame3d"}, "transform": [{"filter": "datum.k == 'a'"}], "mark": {"type": "rule", "color": "#000000", "strokeWidth": 1.6}, "encoding": {"x2": {"field": "u2"}, "y2": {"field": "v2"}}},
                    {"data": {"name": "lab3d"}, "transform": [{"filter": "datum.g == 'z'"}], "mark": {"type": "text", "align": "right", "baseline": "middle", "angle": -8, "fontSize": 10.5, "fontStyle": "italic", "fontWeight": "bold"}, "encoding": {"text": {"field": "t"}}},
                    {"data": {"name": "lab3d"}, "transform": [{"filter": "datum.g == 'p'"}], "mark": {"type": "text", "align": "center", "baseline": "middle", "angle": 25, "fontSize": 10.5, "fontStyle": "italic", "fontWeight": "bold"}, "encoding": {"text": {"field": "t"}}},
                    {"data": {"name": "lab3d"}, "transform": [{"filter": "datum.g == 'r'"}], "mark": {"type": "text", "align": "center", "baseline": "middle", "angle": -23, "fontSize": 10.5, "fontStyle": "italic", "fontWeight": "bold"}, "encoding": {"text": {"field": "t"}}},
                    {"data": {"name": "curC"}, "transform": [{"window": [{"op": "row_number", "as": "n"}]}, {"filter": "datum.s == 'h'"}], "mark": {"type": "line", "strokeWidth": 4, "strokeCap": "round", "interpolate": "cardinal"}, "encoding": {"order": {"field": "n"}, "color": {"field": "p", "type": "ordinal", "scale": {"domain": [3.3, 3.4, 3.5, 3.6, 3.7, 3.8, 3.9, 4.0, 4.1, 4.2, 4.3, 4.4, 4.5, 4.6, 4.7, 4.8], "range": ["#8b2fd9", "#7a2fd0", "#6534c9", "#5040c8", "#3d4fcc", "#2f64d2", "#2a7ed6", "#249fd8", "#1fbcd0", "#1fc8b0", "#2cc46a", "#6ccf2f", "#b8d922", "#f4c81e", "#f5861c", "#e3261b"]}, "legend": null}}},
                    {"data": {"name": "curC"}, "mark": {"type": "circle", "size": 16, "opacity": 1}, "encoding": {"color": {"field": "p", "type": "ordinal", "legend": null}}}
                  ]
                },
                {"data": {"values": [{}]}, "mark": {"type": "text", "fontSize": 16, "fontWeight": "bold", "baseline": "middle"}, "encoding": {"x": {"datum": 39}, "y": {"datum": 34}, "text": {"value": "LMNO"}}},
                {"data": {"values": [{}]}, "mark": {"type": "text", "fontSize": 16, "fontWeight": "bold", "baseline": "middle"}, "encoding": {"x": {"datum": 193}, "y": {"datum": 25}, "text": {"value": "Charge"}}},
                {"data": {"values": [{}]}, "mark": {"type": "text", "fontSize": 14, "fontWeight": "bold", "fontStyle": "italic", "angle": 24, "baseline": "middle"}, "encoding": {"x": {"datum": 45}, "y": {"datum": 204}, "text": {"value": "Potential (V)"}}},
                {"data": {"values": [{}]}, "mark": {"type": "text", "fontSize": 14, "fontWeight": "bold", "fontStyle": "italic", "angle": -38, "baseline": "middle"}, "encoding": {"x": {"datum": 237}, "y": {"datum": 200}, "text": {"value": "Z′ (ohm)"}}},
                {"data": {"values": [{}]}, "mark": {"type": "rule", "strokeWidth": 7, "opacity": 0.9, "stroke": {"gradient": "linear", "x1": 0, "y1": 0, "x2": 1, "y2": 0, "stops": [{"offset": 0, "color": "#ffffff"}, {"offset": 1, "color": "#f27878"}]}}, "encoding": {"x": {"datum": 143}, "y": {"datum": 36}, "x2": {"datum": 222}, "y2": {"datum": 48}}},
                {"data": {"values": [{}]}, "mark": {"type": "point", "shape": "triangle-right", "filled": true, "size": 300, "angle": 8.5, "color": "#f27878", "opacity": 0.95}, "encoding": {"x": {"datum": 226}, "y": {"datum": 48.5}}}
              ]
            },
            {
              "width": 144, "height": 184,
              "title": {"text": "(f)", "dx": -23, "dy": 19.5},
              "layer": [
                {"data": {"values": [{}]}, "mark": {"type": "rect", "color": "#fbdede"}, "encoding": {"x": {"datum": 529.8}, "x2": {"datum": 536.5}}},
                {"data": {"name": "specF"}, "transform": [{"fold": ["a", "b", "c", "d", "e", "f"], "as": ["k", "I"]}, {"lookup": "k", "from": {"data": {"name": "states"}, "key": "k", "fields": ["name"]}}],
                  "encoding": {
                    "x": {"field": "E", "type": "quantitative", "scale": {"domain": [527, 547.1], "nice": false, "zero": false}, "axis": {"values": [530, 535, 540, 545], "title": "Photon Energy (eV)"}},
                    "y": {"field": "I", "type": "quantitative", "scale": {"domain": [-3, 181], "nice": false, "zero": false}, "axis": {"title": "Normalized Intensity (a.u.)", "labels": false, "ticks": false, "domain": false, "titlePadding": 8}},
                    "color": {"field": "name", "type": "nominal", "scale": {"domain": ["OCV", "1C4.4", "1C4.8", "1D2.0", "2C4.4", "2C4.8"], "range": ["#4a4a4a", "#e23b3b", "#2a67c4", "#389a5e", "#a070d6", "#c9a22a"]}, "legend": null}
                  },
                  "layer": [
                    {"mark": {"type": "line", "strokeWidth": 1.8, "interpolate": "monotone"}},
                    {"transform": [{"filter": "datum.E == 547"}], "mark": {"type": "text", "align": "right", "baseline": "middle", "dx": -2, "dy": 9, "fontSize": 11}, "encoding": {"text": {"field": "name"}}}
                  ]
                },
                {"data": {"values": [{}]}, "mark": {"type": "text", "align": "left", "baseline": "middle", "fontSize": 12.5, "fontWeight": "bold"}, "encoding": {"x": {"datum": 527.6}, "y": {"datum": 174}, "text": {"value": "LMNO"}}},
                {"data": {"values": [{}]}, "mark": {"type": "text", "align": "right", "baseline": "middle", "fontSize": 12.5, "fontWeight": "bold"}, "encoding": {"x": {"datum": 546.8}, "y": {"datum": 174}, "text": {"value": "O K-edge"}}}
              ]
            }
          ],
          "spacing": 50, "bounds": "flush",
          "resolve": {"scale": {"color": "independent", "stroke": "independent", "fill": "independent"}, "legend": {"color": "independent", "stroke": "independent", "fill": "independent"}}
        },
        {
          "hconcat": [
            {
              "width": 133, "height": 190,
              "title": {"text": "(b)", "dx": 14, "dy": 19},
              "layer": [
                {
                  "data": {"name": "gasB"},
                  "transform": [{"fold": ["co2", "o2"], "as": ["gas", "I"]}],
                  "encoding": {
                    "y": {"field": "t", "type": "quantitative", "scale": {"domain": [0, 10], "nice": false}, "axis": {"values": [0, 3, 6, 9], "title": "Time (h)"}},
                    "x": {"field": "I", "type": "quantitative", "scale": {"domain": [-0.05, 1.07], "nice": false, "zero": false}, "axis": {"values": [0, 1], "title": "Gas Intensity (a.u.)"}}
                  },
                  "layer": [
                    {"transform": [{"filter": "datum.gas == 'co2'"}], "mark": {"type": "area", "orient": "horizontal", "fill": {"gradient": "linear", "x1": 0, "y1": 0, "x2": 1, "y2": 0, "stops": [{"offset": 0, "color": "#ffffff"}, {"offset": 1, "color": "#3a86e0"}]}}},
                    {"transform": [{"filter": "datum.gas == 'o2'"}], "mark": {"type": "area", "orient": "horizontal", "fill": {"gradient": "linear", "x1": 0, "y1": 0, "x2": 1, "y2": 0, "stops": [{"offset": 0, "color": "#ffffff"}, {"offset": 1, "color": "#f26b6b"}]}}},
                    {"mark": {"type": "line", "strokeWidth": 1.8}, "encoding": {"order": {"field": "t"}, "stroke": {"field": "gas", "type": "nominal", "scale": {"domain": ["co2", "o2"], "range": ["#3a86e0", "#f06464"]}, "legend": {"title": null, "orient": "bottom-right", "offset": 9, "symbolType": "M-1,-0.5H1V0.5H-1Z", "symbolSize": 729, "symbolStrokeWidth": 1.8, "labelFontSize": 12, "labelFontWeight": "bold", "labelOffset": 4, "rowPadding": 4, "labelExpr": "datum.label == 'co2' ? 'm/z=44 CO₂' : 'm/z=32 O₂'", "encode": {"symbols": {"update": {"fill": {"signal": "datum.value == 'co2' ? {gradient: 'linear', stops: [{offset: 0, color: '#ffffff'}, {offset: 1, color: '#3a86e0'}]} : {gradient: 'linear', stops: [{offset: 0, color: '#ffffff'}, {offset: 1, color: '#f06464'}]}"}, "fillOpacity": {"value": 1}}}}}}}}
                  ]
                },
                {"data": {"values": [{}]}, "mark": {"type": "text", "align": "right", "baseline": "middle", "fontSize": 13, "fontWeight": "bold"}, "encoding": {"x": {"datum": 1.02}, "y": {"datum": 9.37}, "text": {"value": "LMDR-10"}}}
              ]
            },
            {
              "width": 248, "height": 190,
              "view": {"stroke": null},
              "title": {"text": "(d)", "dx": -16, "dy": 15},
              "layer": [
                {
                  "encoding": {
                    "x": {"field": "u", "type": "quantitative", "scale": {"domain": [0, 248], "nice": false, "zero": false}, "axis": null},
                    "y": {"field": "v", "type": "quantitative", "scale": {"domain": [0, 190], "nice": false, "zero": false, "reverse": true}, "axis": {"title": "-Z″ (ohm)", "titleAngle": 90, "titleBaseline": "top", "labels": false, "ticks": false, "domain": false, "titlePadding": 8, "titleY": 100}}
                  },
                  "layer": [
                    {"data": {"name": "frame3d"}, "transform": [{"filter": "datum.k == 'g'"}], "mark": {"type": "rule", "color": "#c8c8c8", "strokeWidth": 0.7}, "encoding": {"x2": {"field": "u2"}, "y2": {"field": "v2"}}},
                    {"data": {"name": "frame3d"}, "transform": [{"filter": "datum.k == 'e'"}], "mark": {"type": "rule", "color": "#111111", "strokeWidth": 1}, "encoding": {"x2": {"field": "u2"}, "y2": {"field": "v2"}}},
                    {"data": {"name": "frame3d"}, "transform": [{"filter": "datum.k == 'a'"}], "mark": {"type": "rule", "color": "#000000", "strokeWidth": 1.6}, "encoding": {"x2": {"field": "u2"}, "y2": {"field": "v2"}}},
                    {"data": {"name": "lab3d"}, "transform": [{"filter": "datum.g == 'z'"}], "mark": {"type": "text", "align": "right", "baseline": "middle", "angle": -8, "fontSize": 10.5, "fontStyle": "italic", "fontWeight": "bold"}, "encoding": {"text": {"field": "t"}}},
                    {"data": {"name": "lab3d"}, "transform": [{"filter": "datum.g == 'p'"}], "mark": {"type": "text", "align": "center", "baseline": "middle", "angle": 25, "fontSize": 10.5, "fontStyle": "italic", "fontWeight": "bold"}, "encoding": {"text": {"field": "t"}}},
                    {"data": {"name": "lab3d"}, "transform": [{"filter": "datum.g == 'r'"}], "mark": {"type": "text", "align": "center", "baseline": "middle", "angle": -23, "fontSize": 10.5, "fontStyle": "italic", "fontWeight": "bold"}, "encoding": {"text": {"field": "t"}}},
                    {"data": {"name": "curD"}, "transform": [{"window": [{"op": "row_number", "as": "n"}]}, {"filter": "datum.s == 'h'"}], "mark": {"type": "line", "strokeWidth": 4, "strokeCap": "round", "interpolate": "cardinal"}, "encoding": {"order": {"field": "n"}, "color": {"field": "p", "type": "ordinal", "scale": {"domain": [3.3, 3.4, 3.5, 3.6, 3.7, 3.8, 3.9, 4.0, 4.1, 4.2, 4.3, 4.4, 4.5, 4.6, 4.7, 4.8], "range": ["#8b2fd9", "#7a2fd0", "#6534c9", "#5040c8", "#3d4fcc", "#2f64d2", "#2a7ed6", "#249fd8", "#1fbcd0", "#1fc8b0", "#2cc46a", "#6ccf2f", "#b8d922", "#f4c81e", "#f5861c", "#e3261b"]}, "legend": null}}},
                    {"data": {"name": "curD"}, "mark": {"type": "circle", "size": 16, "opacity": 1}, "encoding": {"color": {"field": "p", "type": "ordinal", "legend": null}}}
                  ]
                },
                {"data": {"values": [{}]}, "mark": {"type": "text", "fontSize": 16, "fontWeight": "bold", "baseline": "middle"}, "encoding": {"x": {"datum": 49}, "y": {"datum": 43}, "text": {"value": "LMDR-10"}}},
                {"data": {"values": [{}]}, "mark": {"type": "text", "fontSize": 16, "fontWeight": "bold", "baseline": "middle"}, "encoding": {"x": {"datum": 193}, "y": {"datum": 28}, "text": {"value": "Charge"}}},
                {"data": {"values": [{}]}, "mark": {"type": "text", "fontSize": 14, "fontWeight": "bold", "fontStyle": "italic", "angle": 24, "baseline": "middle"}, "encoding": {"x": {"datum": 45}, "y": {"datum": 204}, "text": {"value": "Potential (V)"}}},
                {"data": {"values": [{}]}, "mark": {"type": "text", "fontSize": 14, "fontWeight": "bold", "fontStyle": "italic", "angle": -38, "baseline": "middle"}, "encoding": {"x": {"datum": 237}, "y": {"datum": 200}, "text": {"value": "Z′ (ohm)"}}},
                {"data": {"values": [{}]}, "mark": {"type": "rule", "strokeWidth": 7, "opacity": 0.9, "stroke": {"gradient": "linear", "x1": 0, "y1": 0, "x2": 1, "y2": 0, "stops": [{"offset": 0, "color": "#ffffff"}, {"offset": 1, "color": "#f27878"}]}}, "encoding": {"x": {"datum": 150}, "y": {"datum": 41}, "x2": {"datum": 224}, "y2": {"datum": 53}}},
                {"data": {"values": [{}]}, "mark": {"type": "point", "shape": "triangle-right", "filled": true, "size": 300, "angle": 9, "color": "#f27878", "opacity": 0.95}, "encoding": {"x": {"datum": 228}, "y": {"datum": 53.5}}}
              ]
            },
            {
              "width": 144, "height": 189,
              "title": {"text": "(g)", "dx": -24, "dy": 14.5},
              "layer": [
                {"data": {"values": [{}]}, "mark": {"type": "rect", "color": "#fbdede"}, "encoding": {"x": {"datum": 529.9}, "x2": {"datum": 536.6}}},
                {"data": {"name": "specG"}, "transform": [{"fold": ["a", "b", "c", "d", "e", "f"], "as": ["k", "I"]}, {"lookup": "k", "from": {"data": {"name": "states"}, "key": "k", "fields": ["name"]}}],
                  "encoding": {
                    "x": {"field": "E", "type": "quantitative", "scale": {"domain": [527, 547.1], "nice": false, "zero": false}, "axis": {"values": [530, 535, 540, 545], "title": "Photon Energy (eV)"}},
                    "y": {"field": "I", "type": "quantitative", "scale": {"domain": [0, 189], "nice": false, "zero": false}, "axis": {"title": "Normalized Intensity (a.u.)", "labels": false, "ticks": false, "domain": false, "titlePadding": 8}},
                    "color": {"field": "name", "type": "nominal", "scale": {"domain": ["OCV", "1C4.4", "1C4.8", "1D2.0", "2C4.4", "2C4.8"], "range": ["#4a4a4a", "#e23b3b", "#2a67c4", "#389a5e", "#a070d6", "#c9a22a"]}, "legend": null}
                  },
                  "layer": [
                    {"mark": {"type": "line", "strokeWidth": 1.8, "interpolate": "monotone"}},
                    {"transform": [{"filter": "datum.E == 547"}], "mark": {"type": "text", "align": "right", "baseline": "middle", "dx": -2, "dy": 9, "fontSize": 11}, "encoding": {"text": {"field": "name"}}}
                  ]
                },
                {"data": {"values": [{}]}, "mark": {"type": "text", "align": "left", "baseline": "middle", "fontSize": 12.5, "fontWeight": "bold"}, "encoding": {"x": {"datum": 527.6}, "y": {"datum": 180}, "text": {"value": "LMDR-10"}}},
                {"data": {"values": [{}]}, "mark": {"type": "text", "align": "right", "baseline": "middle", "fontSize": 12.5, "fontWeight": "bold"}, "encoding": {"x": {"datum": 546.8}, "y": {"datum": 180}, "text": {"value": "O K-edge"}}}
              ]
            }
          ],
          "spacing": 50, "bounds": "flush",
          "resolve": {"scale": {"color": "independent", "stroke": "independent", "fill": "independent"}, "legend": {"color": "independent", "stroke": "independent", "fill": "independent"}}
        }
      ],
      "spacing": 8,
      "resolve": {"scale": {"color": "independent", "stroke": "independent", "fill": "independent"}, "legend": {"color": "independent", "stroke": "independent", "fill": "independent"}}
    },
    {
      "hconcat": [
        {"width": 1, "height": 10, "data": {"values": []}, "mark": "point", "view": {"stroke": null}},
        {
          "hconcat": [
            {
              "width": 253, "height": 142,
              "title": {"text": "(e)", "dx": -10, "dy": 19.5},
              "layer": [
                {
                  "layer": [
                    {"data": {"name": "eis"}, "mark": {"type": "line", "strokeWidth": 1.4}, "encoding": {
                      "x": {"field": "V", "type": "quantitative", "scale": {"domain": [3.19, 4.88], "nice": false, "zero": false}, "axis": {"values": [3.2, 3.6, 4.0, 4.4, 4.8], "format": ".1f", "title": "Potential (V)"}},
                      "y": {"field": "ln", "type": "quantitative", "scale": {"domain": [4, 10.45], "nice": false, "zero": false}, "axis": {"orient": "left", "values": [4, 6, 8, 10], "title": "lnRct (ohm)"}},
                      "color": {"field": "s", "type": "nominal", "scale": {"domain": ["LMNO", "LMDR-10"], "range": ["#2f9ed8", "#e58080"]}, "legend": null}}},
                    {"data": {"name": "eis"}, "mark": {"type": "point", "filled": true, "size": 75, "strokeWidth": 1, "opacity": 1}, "encoding": {
                      "x": {"field": "V", "type": "quantitative"},
                      "y": {"field": "ln", "type": "quantitative"},
                      "fill": {"field": "s", "type": "nominal", "scale": {"domain": ["LMNO", "LMDR-10"], "range": ["#3fb0e8", "#ef8080"]}, "legend": null},
                      "stroke": {"field": "s", "type": "nominal", "scale": {"domain": ["LMNO", "LMDR-10"], "range": ["#2388c8", "#d85c5c"]}, "legend": null}}},
                    {"data": {"values": [{}]}, "mark": {"type": "rule", "strokeWidth": 1.2, "color": "#000000"}, "encoding": {"x": {"datum": 3.5}, "y": {"datum": 6.07}, "y2": {"datum": 5.39}}},
                    {"data": {"values": [{}]}, "mark": {"type": "rule", "strokeWidth": 1.2, "color": "#000000"}, "encoding": {"x": {"datum": 3.5}, "x2": {"datum": 3.245}, "y": {"datum": 5.39}}},
                    {"data": {"values": [{}]}, "mark": {"type": "point", "shape": "triangle-left", "filled": true, "size": 40, "color": "#000000", "opacity": 1}, "encoding": {"x": {"datum": 3.235}, "y": {"datum": 5.39}}},
                    {"data": {"values": [{}]}, "mark": {"type": "rule", "strokeWidth": 1.2, "color": "#000000"}, "encoding": {"x": {"datum": 4.58}, "x2": {"datum": 4.82}, "y": {"datum": 7.76}}},
                    {"data": {"values": [{}]}, "mark": {"type": "point", "shape": "triangle-right", "filled": true, "size": 40, "color": "#000000", "opacity": 1}, "encoding": {"x": {"datum": 4.83}, "y": {"datum": 7.76}}},
                    {"data": {"values": [{}]}, "mark": {"type": "text", "align": "right", "baseline": "middle", "fontSize": 13, "fontWeight": "bold"}, "encoding": {"x": {"datum": 4.81}, "y": {"datum": 10.05}, "text": {"value": "Charge"}}},
                    {"data": {"values": [{}]}, "mark": {"type": "rule", "strokeWidth": 1.4, "color": "#2f9ed8"}, "encoding": {"x": {"datum": 3.263}, "x2": {"datum": 3.403}, "y": {"datum": 10.09}}},
                    {"data": {"values": [{}]}, "mark": {"type": "rule", "strokeWidth": 1.4, "color": "#2f9ed8"}, "encoding": {"x": {"datum": 3.483}, "x2": {"datum": 3.637}, "y": {"datum": 10.09}}},
                    {"data": {"values": [{}]}, "mark": {"type": "point", "filled": true, "size": 75, "fill": "#3fb0e8", "stroke": "#2388c8", "strokeWidth": 1, "opacity": 1}, "encoding": {"x": {"datum": 3.333}, "y": {"datum": 10.09}}},
                    {"data": {"values": [{}]}, "mark": {"type": "point", "filled": true, "size": 75, "fill": "#ffffff", "stroke": "#2388c8", "strokeWidth": 1.2, "opacity": 1}, "encoding": {"x": {"datum": 3.56}, "y": {"datum": 10.09}}},
                    {"data": {"values": [{}]}, "mark": {"type": "text", "align": "left", "baseline": "middle", "fontSize": 11}, "encoding": {"x": {"datum": 3.655}, "y": {"datum": 10.09}, "text": {"value": "LMNO"}}},
                    {"data": {"values": [{}]}, "mark": {"type": "rule", "strokeWidth": 1.4, "color": "#e58080"}, "encoding": {"x": {"datum": 3.263}, "x2": {"datum": 3.403}, "y": {"datum": 9.5}}},
                    {"data": {"values": [{}]}, "mark": {"type": "rule", "strokeWidth": 1.4, "color": "#e58080"}, "encoding": {"x": {"datum": 3.483}, "x2": {"datum": 3.637}, "y": {"datum": 9.5}}},
                    {"data": {"values": [{}]}, "mark": {"type": "point", "filled": true, "size": 75, "fill": "#ef8080", "stroke": "#d85c5c", "strokeWidth": 1, "opacity": 1}, "encoding": {"x": {"datum": 3.333}, "y": {"datum": 9.5}}},
                    {"data": {"values": [{}]}, "mark": {"type": "point", "filled": true, "size": 75, "fill": "#ffffff", "stroke": "#d85c5c", "strokeWidth": 1.2, "opacity": 1}, "encoding": {"x": {"datum": 3.56}, "y": {"datum": 9.5}}},
                    {"data": {"values": [{}]}, "mark": {"type": "text", "align": "left", "baseline": "middle", "fontSize": 11}, "encoding": {"x": {"datum": 3.655}, "y": {"datum": 9.5}, "text": {"value": "LMDR-10"}}}
                  ]
                },
                {
                  "layer": [
                    {"data": {"name": "eis"}, "mark": {"type": "line", "strokeWidth": 1.4}, "encoding": {
                      "x": {"field": "V", "type": "quantitative"},
                      "y": {"field": "rs", "type": "quantitative", "scale": {"domain": [0, 10.4], "nice": false, "zero": false}, "axis": {"orient": "right", "values": [0, 3, 6, 9], "title": "Rₛ (ohm)", "titleAngle": 270, "titleBaseline": "top"}},
                      "color": {"field": "s", "type": "nominal", "legend": null}}},
                    {"data": {"name": "eis"}, "mark": {"type": "point", "filled": true, "fill": "#ffffff", "size": 75, "strokeWidth": 1.2, "opacity": 1}, "encoding": {
                      "x": {"field": "V", "type": "quantitative"},
                      "y": {"field": "rs", "type": "quantitative"},
                      "stroke": {"field": "s", "type": "nominal", "legend": null}}}
                  ]
                }
              ],
              "resolve": {"scale": {"y": "independent"}}
            },
            {
              "width": 260, "height": 142,
              "title": {"text": "(h)", "dx": -24, "dy": 13.5},
              "layer": [
                {"data": {"name": "oks"}, "transform": [{"filter": "datum.s == 'LMNO'"}], "mark": {"type": "bar", "strokeWidth": 0, "fill": {"gradient": "linear", "x1": 0, "y1": 0, "x2": 1, "y2": 0, "stops": [{"offset": 0, "color": "#3d9ee8"}, {"offset": 0.55, "color": "#a9d8f7"}, {"offset": 0.8, "color": "#e2f2fd"}, {"offset": 1, "color": "#8fcaf2"}]}}, "encoding": {
                  "x": {"field": "st", "type": "nominal", "scale": {"domain": ["OCV", "1C4.4", "1C4.8", "1D2.0", "2C4.4", "2C4.8"], "paddingInner": 0.22, "paddingOuter": 0.16}, "axis": {"labelAngle": 0, "title": "Voltage States", "labelPadding": 3}},
                  "xOffset": {"field": "s", "type": "nominal", "scale": {"domain": ["LMNO", "LMDR-10"]}},
                  "y": {"field": "val", "type": "quantitative", "scale": {"domain": [3.0, 4.76], "nice": false, "zero": false}, "axis": {"values": [3.0, 3.5, 4.0, 4.5], "format": ".1f", "title": "Integrated Intensity"}},
                  "y2": {"datum": 3.0},
                  "stroke": {"field": "s", "type": "nominal", "scale": {"domain": ["LMNO", "LMDR-10"], "range": ["#3b9be6", "#ee7070"]}, "legend": {"title": null, "orient": "top-left", "offset": 5, "symbolType": "M-1,-0.5H1V0.5H-1Z", "symbolSize": 625, "symbolStrokeWidth": 0, "labelFontSize": 12, "labelFontWeight": "bold", "labelOffset": 4, "rowPadding": 2, "encode": {"symbols": {"update": {"fill": {"signal": "datum.value == 'LMNO' ? {gradient: 'linear', stops: [{offset: 0, color: '#3d9ee8'}, {offset: 0.8, color: '#e2f2fd'}, {offset: 1, color: '#8fcaf2'}]} : {gradient: 'linear', stops: [{offset: 0, color: '#f7b3b3'}, {offset: 0.4, color: '#fde6e6'}, {offset: 1, color: '#ec6c6c'}]}"}, "fillOpacity": {"value": 1}}}}}}}},
                {"data": {"name": "oks"}, "transform": [{"filter": "datum.s == 'LMDR-10'"}], "mark": {"type": "bar", "strokeWidth": 0, "fill": {"gradient": "linear", "x1": 0, "y1": 0, "x2": 1, "y2": 0, "stops": [{"offset": 0, "color": "#f7b3b3"}, {"offset": 0.3, "color": "#fde6e6"}, {"offset": 0.6, "color": "#f9c4c4"}, {"offset": 1, "color": "#ec6c6c"}]}}, "encoding": {
                  "x": {"field": "st", "type": "nominal"},
                  "xOffset": {"field": "s", "type": "nominal"},
                  "y": {"field": "val", "type": "quantitative"},
                  "y2": {"datum": 3.0},
                  "stroke": {"field": "s", "type": "nominal"}}},
                {"data": {"values": [{}]}, "mark": {"type": "text", "align": "right", "baseline": "middle", "dx": 14, "fontSize": 13, "fontWeight": "bold"}, "encoding": {"x": {"datum": "2C4.8"}, "y": {"datum": 4.61}, "text": {"value": "O K-edge"}}}
              ]
            }
          ],
          "spacing": 95, "bounds": "flush",
          "resolve": {"scale": {"color": "independent", "stroke": "independent", "fill": "independent"}, "legend": {"color": "independent", "stroke": "independent", "fill": "independent"}}
        }
      ],
      "spacing": 10, "bounds": "flush",
      "resolve": {"scale": {"color": "independent", "stroke": "independent", "fill": "independent"}, "legend": {"color": "independent", "stroke": "independent", "fill": "independent"}}
    }
  ],
  "spacing": 8,
  "resolve": {"scale": {"color": "independent", "stroke": "independent", "fill": "independent"}, "legend": {"color": "independent", "stroke": "independent", "fill": "independent"}}
}
